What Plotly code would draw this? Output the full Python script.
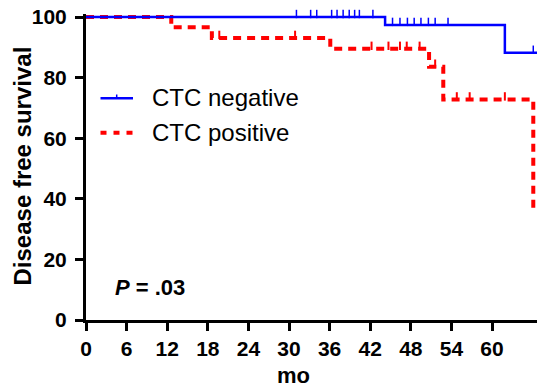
import plotly.graph_objects as go

# ---- data ----
x_ticks = [0, 6, 12, 18, 24, 30, 36, 42, 48, 54, 60]
y_ticks = [0, 20, 40, 60, 80, 100]

neg_times = [0, 44.2, 61.9, 66.8]
neg_surv = [100, 97.4, 88.2, 88.2]
neg_censor = [31.1, 33.2, 34.1, 36.3, 37.1, 38.0, 38.9, 39.7, 40.4, 42.4,
              45.3, 46.4, 47.5, 48.5, 49.5, 50.6, 51.6, 53.5, 66.1]

pos_times = [0, 12.6, 18.6, 36.1, 50.7, 52.8, 66.1, 66.8]
pos_surv = [100, 96.6, 93.1, 89.5, 83.6, 72.8, 36.7, 36.7]
pos_censor = [19.7, 30.9, 42.2, 44.7, 46.4, 47.4, 49.3, 51.6, 54.8, 56.7, 61.9]

BLUE = "#0000ff"
RED = "#ff0000"
FONT = "Liberation Sans, Arial, sans-serif"


def surv_at(times, surv, t):
    v = surv[0]
    for ti, si in zip(times, surv):
        if ti <= t:
            v = si
    return v


fig = go.Figure()

fig.add_trace(go.Scatter(x=pos_times, y=pos_surv, mode="lines", line_shape="hv",
                         line=dict(color=RED, width=4, dash="8px,6px"), showlegend=False))
fig.add_trace(go.Scatter(
    x=pos_censor, y=[surv_at(pos_times, pos_surv, t) + 1.0 for t in pos_censor],
    mode="markers", marker=dict(symbol="line-ns", size=6, line=dict(color=RED, width=2)),
    showlegend=False, cliponaxis=False))
fig.add_trace(go.Scatter(x=neg_times, y=neg_surv, mode="lines", line_shape="hv",
                         line=dict(color=BLUE, width=2.5), showlegend=False))
fig.add_trace(go.Scatter(
    x=neg_censor, y=[surv_at(neg_times, neg_surv, t) + 1.0 for t in neg_censor],
    mode="markers", marker=dict(symbol="line-ns", size=6, line=dict(color=BLUE, width=1.5)),
    showlegend=False, cliponaxis=False))

W, H = 537, 387
L, R, T, B = 86, 0, 14, 67
PW, PH = W - L - R, H - T - B


def px(xp):
    return (xp - L) / PW


def py(yp):
    return (H - B - yp) / PH


# manual legend
shapes = [
    dict(type="line", xref="paper", yref="paper", x0=px(100.5), x1=px(133), y0=py(98.3), y1=py(98.3),
         line=dict(color=BLUE, width=2.5)),
    dict(type="line", xref="paper", yref="paper", x0=px(116.7), x1=px(116.7), y0=py(98.3), y1=py(94.5),
         line=dict(color=BLUE, width=1.5)),
    dict(type="line", xref="paper", yref="paper", x0=px(100.5), x1=px(134), y0=py(132.7), y1=py(132.7),
         line=dict(color=RED, width=4, dash="6px,7px")),
]

annotations = [
    dict(text="CTC negative", x=px(150), y=py(97), xref="paper", yref="paper",
         xanchor="left", yanchor="middle", showarrow=False,
         font=dict(family=FONT, size=24, color="black")),
    dict(text="CTC positive", x=px(150), y=py(132), xref="paper", yref="paper",
         xanchor="left", yanchor="middle", showarrow=False,
         font=dict(family=FONT, size=24, color="black")),
    dict(text="<b><i>P</i> = .03</b>", x=px(113), y=py(287), xref="paper", yref="paper",
         xanchor="left", yanchor="middle", showarrow=False,
         font=dict(family=FONT, size=22, color="black")),
    dict(text="<b>Disease free survival</b>", x=px(22), y=py(166.5), xref="paper", yref="paper",
         xanchor="center", yanchor="middle", textangle=-90, showarrow=False,
         font=dict(family=FONT, size=24, color="black")),
    dict(text="<b>mo</b>", x=px(293), y=py(375), xref="paper", yref="paper",
         xanchor="center", yanchor="middle", showarrow=False,
         font=dict(family=FONT, size=22, color="black")),
]

axis_common = dict(showline=True, linewidth=3, linecolor="black", ticks="outside",
                   ticklen=8, tickwidth=3, tickcolor="black", showgrid=False, zeroline=False,
                   tickfont=dict(family=FONT, size=21, color="black", weight="bold"))

fig.update_layout(
    width=W, height=H,
    margin=dict(l=L, r=R, t=T, b=B),
    plot_bgcolor="white", paper_bgcolor="white",
    xaxis=dict(range=[0, 66.65], tickvals=x_ticks, ticktext=[str(v) for v in x_ticks], **axis_common),
    yaxis=dict(range=[0, 101], tickvals=y_ticks, ticktext=[str(v) for v in y_ticks],
               ticklabelstandoff=4, **axis_common),
    shapes=shapes, annotations=annotations, showlegend=False,
)

fig.write_html("out.html", config={"displayModeBar": False},
               post_script="document.body.style.margin='0';document.body.style.overflow='hidden';")
